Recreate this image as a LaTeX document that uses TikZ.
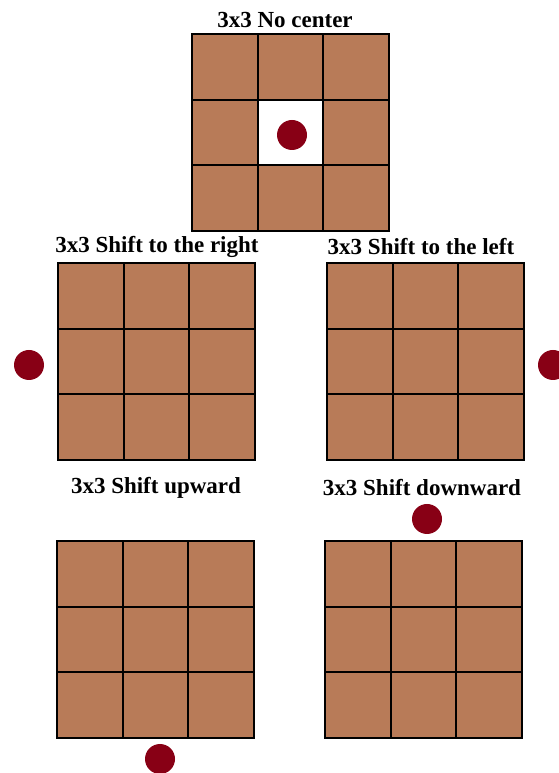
\documentclass[tikz,border=0pt]{standalone}
\usepackage{fontspec}
\setmainfont{Liberation Serif}
\usetikzlibrary{calc}
\definecolor{tilebrown}{RGB}{184,123,88}
\definecolor{dotred}{RGB}{136,0,21}
\tikzset{
    cell/.style={draw=black, fill=tilebrown, line width=1.8pt},
    hole/.style={draw=black, fill=white, line width=1.8pt},
    marker/.style={circle, fill=dotred, minimum size=30pt, inner sep=0pt},
    title/.style={font=\fontsize{23}{26}\selectfont\bfseries, inner sep=0pt},
}
% 3x3 block of cells, top-left corner at (#1,#2)
\newcommand{\cellgrid}[2]{
    \foreach \i in {0,1,2}
        \foreach \j in {0,1,2}
            \draw[cell] ($(#1,#2)+(\i*65.67,-\j*65.67)$) rectangle ++(65.67,-65.67);
}

\begin{document}
\begin{tikzpicture}[x=1pt, y=1pt]
    \path[use as bounding box] (0,0) rectangle (558,773);

    % no center
    \node[title] (tnocenter) at (285,753) {3x3 No center};
    \cellgrid{192}{739}
    \draw[hole] (257.67,673.33) rectangle ++(65.67,-65.67);
    \node[marker] (dnocenter) at (292,638) {};

    % shift to the right
    \node[title] (tright) at (157,526) {3x3 Shift to the right};
    \cellgrid{58}{510}
    \node[marker] (dright) at (29,408) {};

    % shift to the left
    \node[title] (tleft) at (421,526) {3x3 Shift to the left};
    \cellgrid{327}{510}
    \node[marker] (dleft) at (553,408) {};

    % shift upward
    \node[title] (tup) at (156,285) {3x3 Shift upward};
    \cellgrid{57}{232}
    \node[marker] (dup) at (160,14) {};

    % shift downward
    \node[title] (tdown) at (422,285) {3x3 Shift downward};
    \cellgrid{325}{232}
    \node[marker] (ddown) at (427,254) {};

\end{tikzpicture}
\end{document}
